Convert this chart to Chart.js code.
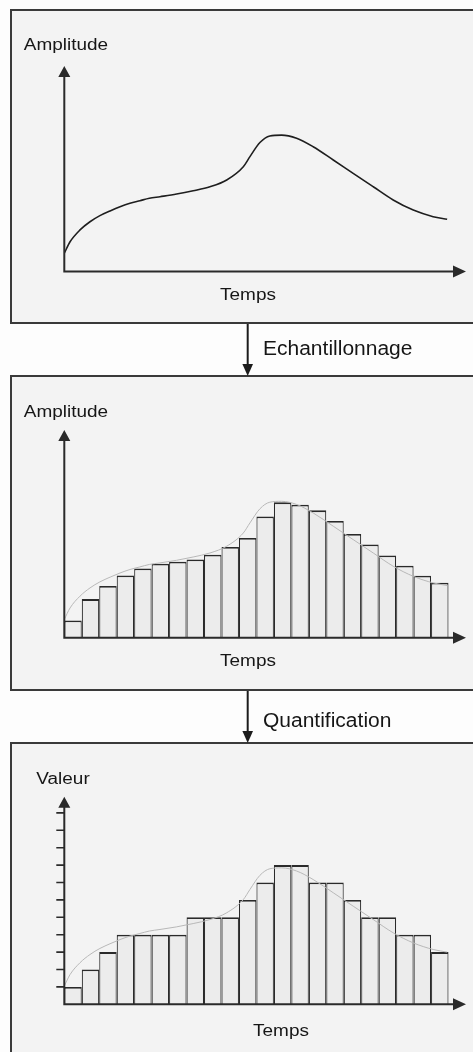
<!DOCTYPE html>
<html>
<head>
<meta charset="utf-8">
<title>Echantillonnage et quantification</title>
<script src="https://cdn.jsdelivr.net/npm/chart.js@4/dist/chart.umd.min.js"></script>
<style>
  html, body { margin: 0; padding: 0; }
  body {
    width: 473px; height: 1052px; overflow: hidden; position: relative;
    background: #fdfdfd; color: #161616;
    font-family: 'Liberation Sans', Arial, sans-serif;
  }
  .panel {
    position: absolute; left: 10px; width: 530px; box-sizing: border-box;
    border: 2px solid #3a3a3a; background: #f3f3f3;
  }
  canvas { position: absolute; left: 0; }
  svg { position: absolute; left: 0; top: 0; }
  .lbl {
    position: absolute; font-size: 15.8px; white-space: nowrap;
    transform: translate(-50%, -50%) scaleX(1.2);
  }
  .step {
    position: absolute; font-size: 20px; white-space: nowrap;
    transform: translateY(-50%) scaleX(1.05); transform-origin: left center;
  }
</style>
</head>
<body>
<div class="panel" style="top:9px;height:315px"></div>
<div class="panel" style="top:375px;height:316px"></div>
<div class="panel" style="top:742px;height:340px"></div>

<canvas id="signal" width="473" height="315" style="top:9px;width:473px;height:315px"></canvas>
<canvas id="echantillons" width="473" height="316" style="top:375px;width:473px;height:316px"></canvas>
<canvas id="niveaux" width="473" height="310" style="top:742px;width:473px;height:310px"></canvas>

<svg width="473" height="1052">
  <line x1="247.7" y1="324" x2="247.7" y2="366" stroke="#1c1c1c" stroke-width="2"/>
  <polygon points="242.4,364 253,364 247.7,376" fill="#1c1c1c"/>
  <line x1="247.7" y1="691" x2="247.7" y2="733" stroke="#1c1c1c" stroke-width="2"/>
  <polygon points="242.4,731 253,731 247.7,743" fill="#1c1c1c"/>
</svg>

<span class="lbl" style="left:65.5px;top:45.3px">Amplitude</span>
<span class="lbl" style="left:248px;top:294.8px">Temps</span>
<span class="step" style="left:263.3px;top:347.8px">Echantillonnage</span>
<span class="lbl" style="left:65.5px;top:411.7px">Amplitude</span>
<span class="lbl" style="left:248px;top:661px">Temps</span>
<span class="step" style="left:263.3px;top:720px">Quantification</span>
<span class="lbl" style="left:63px;top:778.8px">Valeur</span>
<span class="lbl" style="left:281px;top:1031px">Temps</span>

<script>
// continuous signal (time steps, amplitude levels)
const curveT = [0, 0.33, 0.90, 1.47, 2.04, 2.62, 3.19, 3.76, 4.33, 4.87, 5.48, 6.43, 7.38, 8.34,
  9.30, 10.25, 10.63, 11.2, 11.77, 12.44, 13.30, 14.25, 15.40, 16.54, 17.69, 18.83, 19.98,
  21.12, 21.92]
const curveA = [1.05, 1.71, 2.39, 2.86, 3.21, 3.48, 3.72, 3.92, 4.07, 4.21, 4.30, 4.45, 4.64, 4.87,
  5.26, 6.02, 6.60, 7.41, 7.79, 7.84, 7.66, 7.17, 6.41, 5.64, 4.87, 4.11, 3.53,
  3.15, 3.00]

// one sample per time step
const sampled = [0.99, 2.22, 2.97, 3.58, 3.98, 4.25, 4.37, 4.5, 4.77, 5.21, 5.73,
  6.97, 7.78, 7.64, 7.32, 6.71, 5.96, 5.36, 4.73, 4.14, 3.56, 3.16]

// same samples rounded to the nearest level
const quantized = [1, 2, 3, 4, 4, 4, 4, 5, 5, 5, 6, 7, 8, 8, 7, 7, 6, 5, 5, 4, 4, 3]

// marks on the "Valeur" axis
const levelTicks = [1, 2, 3, 4, 5, 6, 7, 8, 9, 10, 11]

const TIME_END = 23
const INK = '#2a2a2a'

const curvePoints = curveT.map((t, i) => ({ x: t, y: curveA[i] }))
const toBars = vals => vals.map((v, i) => ({ x: i + 0.5, y: v }))

// axes with arrow heads, plus optional tick marks on the y axis
const arrowAxes = {
  id: 'arrowAxes',
  afterDatasetsDraw (chart, args, opts) {
    const ctx = chart.ctx
    const a = chart.chartArea
    const x0 = a.left
    const y0 = a.bottom
    ctx.save()
    ctx.strokeStyle = INK
    ctx.fillStyle = INK
    ctx.lineWidth = 2
    ctx.beginPath()
    ctx.moveTo(x0, y0 + 1)
    ctx.lineTo(x0, a.top + 8)
    ctx.moveTo(x0 - 1, y0)
    ctx.lineTo(a.right - 8, y0)
    ctx.stroke()
    ctx.beginPath()
    ctx.moveTo(x0, a.top)
    ctx.lineTo(x0 - 6, a.top + 11)
    ctx.lineTo(x0 + 6, a.top + 11)
    ctx.closePath()
    ctx.moveTo(a.right, y0)
    ctx.lineTo(a.right - 13, y0 - 6)
    ctx.lineTo(a.right - 13, y0 + 6)
    ctx.closePath()
    ctx.fill()
    if (opts.ticks) {
      const ys = chart.scales.y
      ctx.lineWidth = 1.6
      ctx.beginPath()
      opts.ticks.forEach(v => {
        const py = ys.getPixelForValue(v)
        ctx.moveTo(x0 - 8, py)
        ctx.lineTo(x0, py)
      })
      ctx.stroke()
    }
    ctx.restore()
  }
}

function drawPanel (id, type, datasets, yMax, padding, ticks) {
  return new Chart(document.getElementById(id), {
    type: type,
    data: { datasets: datasets },
    options: {
      responsive: false,
      animation: false,
      events: [],
      layout: { padding: padding },
      scales: {
        x: { type: 'linear', min: 0, max: TIME_END, offset: false, display: false, ticks: { stepSize: 1 } },
        y: { min: 0, max: yMax, display: false }
      },
      plugins: {
        legend: { display: false },
        tooltip: { enabled: false },
        arrowAxes: { ticks: ticks }
      }
    },
    plugins: [arrowAxes]
  })
}

function curveSet (color, width) {
  return {
    type: 'line',
    order: 0,
    data: curvePoints,
    borderColor: color,
    borderWidth: width,
    pointRadius: 0,
    cubicInterpolationMode: 'monotone',
    fill: false
  }
}

function barSet (vals) {
  return {
    type: 'bar',
    order: 1,
    data: toBars(vals),
    backgroundColor: '#ececec',
    borderColor: INK,
    borderWidth: { top: 1.8, left: 1.15, right: 1.15, bottom: 0 },
    barPercentage: 1,
    categoryPercentage: 1,
    inflateAmount: 0,
    grouped: false
  }
}

drawPanel('signal', 'line', [curveSet('#1e1e1e', 1.6)], 11.81,
  { left: 64.3, right: 7, top: 57, bottom: 52.5 })

drawPanel('echantillons', 'bar', [curveSet('#b8b8b8', 1), barSet(sampled)], 11.94,
  { left: 64.3, right: 7, top: 55, bottom: 53.3 })

drawPanel('niveaux', 'bar', [curveSet('#b8b8b8', 1), barSet(quantized)], 11.93,
  { left: 64.3, right: 7, top: 54.7, bottom: 47.7 }, levelTicks)
</script>
</body>
</html>
